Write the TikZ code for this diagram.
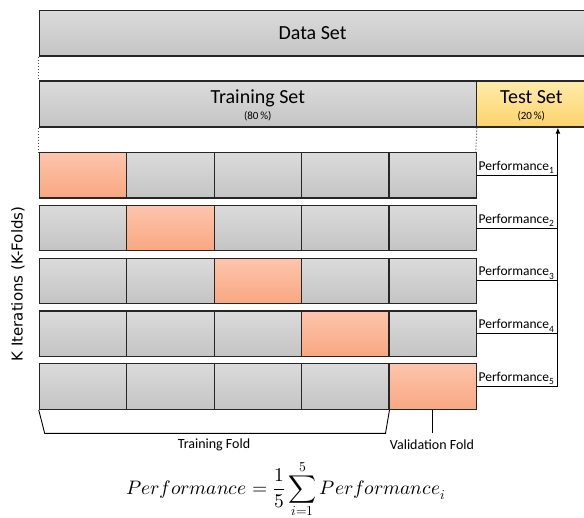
\documentclass[tikz,border=0pt]{standalone}
\usepackage{fontspec}
\usepackage{unicode-math}
\setmainfont{Carlito}
\setmathfont{Latin Modern Math}
\newfontfamily\axisfont{DejaVu Sans}
\usetikzlibrary{calc,arrows.meta}

\definecolor{greytop}{HTML}{DBDBDB}
\definecolor{greybot}{HTML}{C4C4C4}
\definecolor{foldtop}{HTML}{FDC5AD}
\definecolor{foldbot}{HTML}{F9A781}
\definecolor{testtop}{HTML}{FEEBAB}
\definecolor{testbot}{HTML}{FDD36C}
\definecolor{edge}{HTML}{262626}

\newcommand\perfsize{\fontsize{13.5}{16}\selectfont}
\newcommand\titlesize{\fontsize{20}{24}\selectfont}
\newcommand\sharesize{\fontsize{11}{13}\selectfont}

\tikzset{
	box/.style={draw=edge, line width=1.2pt, inner sep=0pt, anchor=north west, minimum height=45.5pt},
	greyfold/.style={box, top color=greytop, bottom color=greybot, minimum width=87.4pt},
	valfold/.style={box, top color=foldtop, bottom color=foldbot, minimum width=87.4pt},
	perf/.style={anchor=south west, inner sep=1.5pt, font=\perfsize},
	wire/.style={draw=black, line width=0.9pt},
	gap/.style={dotted, draw=black!70, line width=1pt},
}

\begin{document}
\begin{tikzpicture}[x=1pt, y=-1pt]
			%%%%% START %%%%%
			\useasboundingbox (0,0) rectangle (584,518);
			
			% whole set and the split
			\node[box, top color=greytop, bottom color=greybot, minimum width=546.5pt, font=\titlesize] (data) at (38.7, 10) {Data Set};
			\node[box, top color=greytop, bottom color=greybot, minimum width=437pt, minimum height=46pt] (train) at (38.7, 80.5) {};
			\node[box, top color=testtop, bottom color=testbot, minimum width=110pt, minimum height=46pt] (test) at (475.7, 80.5) {};
			
			\node[anchor=base, font=\titlesize] (trainname) at ($(train.north)+(0, 23.5)$) {Training Set};
			\node[anchor=base, font=\sharesize] (trainshare) at ($(train.north)+(0, 39.5)$) {(80\,\%)};
			\node[anchor=base, font=\titlesize] (testname) at ($(test.north)+(0, 23.5)$) {Test Set};
			\node[anchor=base, font=\sharesize] (testshare) at ($(test.north)+(0, 39.5)$) {(20\,\%)};
			
			\draw[gap] (data.south west) -- (train.north west);
			\draw[gap] (train.south west) -- (38.7, 152);
			\draw[gap] (train.south east) -- (475.7, 152);
			
			% iteration 1
			\node[valfold] (r1c1) at (38.7, 152) {};
			\node[greyfold] (r1c2) at (126.1, 152) {};
			\node[greyfold] (r1c3) at (213.5, 152) {};
			\node[greyfold] (r1c4) at (300.9, 152) {};
			\node[greyfold] (r1c5) at (388.3, 152) {};
			
			% iteration 2
			\node[greyfold] (r2c1) at (38.7, 204.8) {};
			\node[valfold] (r2c2) at (126.1, 204.8) {};
			\node[greyfold] (r2c3) at (213.5, 204.8) {};
			\node[greyfold] (r2c4) at (300.9, 204.8) {};
			\node[greyfold] (r2c5) at (388.3, 204.8) {};
			
			% iteration 3
			\node[greyfold] (r3c1) at (38.7, 257.6) {};
			\node[greyfold] (r3c2) at (126.1, 257.6) {};
			\node[valfold] (r3c3) at (213.5, 257.6) {};
			\node[greyfold] (r3c4) at (300.9, 257.6) {};
			\node[greyfold] (r3c5) at (388.3, 257.6) {};
			
			% iteration 4
			\node[greyfold] (r4c1) at (38.7, 310.4) {};
			\node[greyfold] (r4c2) at (126.1, 310.4) {};
			\node[greyfold] (r4c3) at (213.5, 310.4) {};
			\node[valfold] (r4c4) at (300.9, 310.4) {};
			\node[greyfold] (r4c5) at (388.3, 310.4) {};
			
			% iteration 5
			\node[greyfold] (r5c1) at (38.7, 363.2) {};
			\node[greyfold] (r5c2) at (126.1, 363.2) {};
			\node[greyfold] (r5c3) at (213.5, 363.2) {};
			\node[greyfold] (r5c4) at (300.9, 363.2) {};
			\node[valfold] (r5c5) at (388.3, 363.2) {};
			
			% scores collected into the test set
			\coordinate (rail) at ($(r5c5.east)+(81,0)$);
			
			\node[perf] (p1) at (r1c5.east) {Performance\textsubscript{1}};
			\node[perf] (p2) at (r2c5.east) {Performance\textsubscript{2}};
			\node[perf] (p3) at (r3c5.east) {Performance\textsubscript{3}};
			\node[perf] (p4) at (r4c5.east) {Performance\textsubscript{4}};
			\node[perf] (p5) at (r5c5.east) {Performance\textsubscript{5}};
			
			\draw[wire] (r1c5.east) -- (r1c5.east -| rail);
			\draw[wire] (r2c5.east) -- (r2c5.east -| rail);
			\draw[wire] (r3c5.east) -- (r3c5.east -| rail);
			\draw[wire] (r4c5.east) -- (r4c5.east -| rail);
			\draw[wire] (r5c5.east) -- (rail);
			\draw[wire, -{Latex[length=6pt, width=5pt]}] (rail) -- (rail |- test.south);
			
			% fold labels
			\draw[wire] (r5c1.south west) -- ++(6, 23.5) -- ($(r5c4.south east)+(-4, 23.5)$) -- (r5c4.south east);
			\draw[wire] (r5c5.south) -- ++(0, 23.5);
			
			\node[font=\fontsize{14}{16}\selectfont] (trainfold) at (214, 445) {Training Fold};
			\node[font=\fontsize{14}{16}\selectfont] (valid) at (432, 445) {Validation Fold};
			
			\node[font=\axisfont\fontsize{15}{18}\selectfont, rotate=90] (kfolds) at (18, 284) {K Iterations (K-Folds)};
			
			\node[font=\fontsize{19.5}{23}\selectfont] (avg) at (286, 489) {$\displaystyle Performance = \frac{1}{5}\sum_{i=1}^{5} Performance_i$};
			
			%%%%% END %%%%%
\end{tikzpicture}
\end{document}
